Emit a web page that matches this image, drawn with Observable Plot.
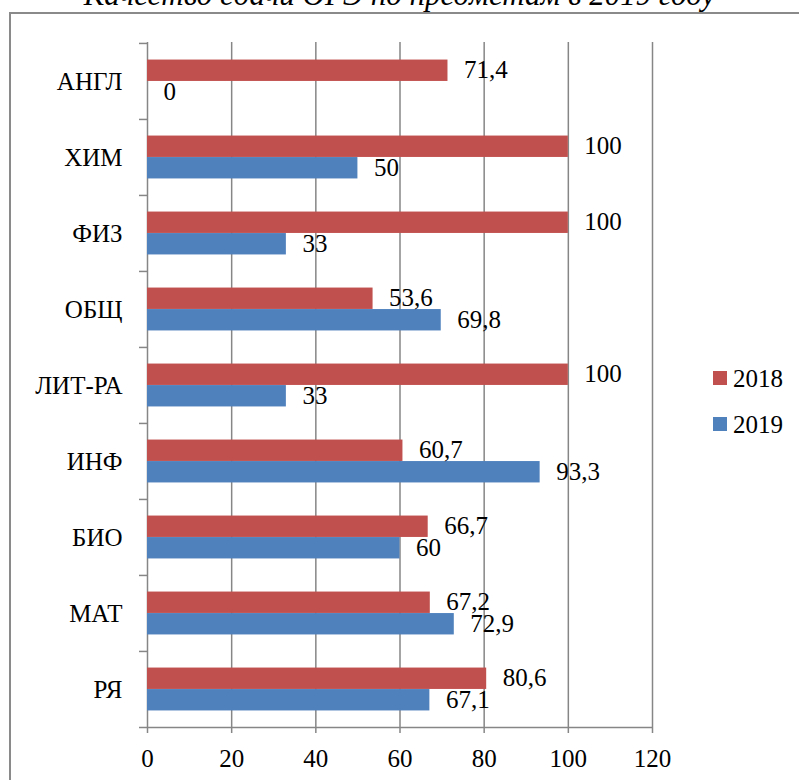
<!DOCTYPE html>
<html>
<head>
<meta charset="utf-8">
<script src="https://cdn.jsdelivr.net/npm/d3@7"></script>
<script src="https://cdn.jsdelivr.net/npm/@observablehq/plot@0.6"></script>
<style>
  html, body { margin: 0; padding: 0; background: #fff; }
  #wrap { position: relative; width: 799px; height: 780px; overflow: hidden; font-family: 'Liberation Serif'; }
  #title { position: absolute; left: 0; width: 799px; top: -21px; text-align: center; font-family: 'Liberation Serif'; font-style: italic; font-size: 31px; line-height: 1; white-space: nowrap; color: #000; }
  #frame { position: absolute; left: 9px; top: 12px; width: 900px; height: 900px; border: 2px solid #8a8a8a; box-sizing: border-box; }
  #chart { position: absolute; left: 0; top: 0; }
  .leg { position: absolute; left: 713px; font-family: 'Liberation Serif'; font-size: 25px; line-height: 1; color: #000; }
  .leg span.sw { position: absolute; left: 0; width: 14px; height: 14px; }
  .leg span.tx { position: absolute; left: 20px; white-space: nowrap; }
  #chart svg text { font-family: 'Liberation Serif' !important; }
</style>
</head>
<body>
<div id="wrap">
  <div id="title">Качество сдачи ОГЭ по предметам в 2019 году</div>
  <div id="frame"></div>
  <div id="chart"></div>
  <div id="legend"></div>
</div>
<script>
const categories = ["АНГЛ", "ХИМ", "ФИЗ", "ОБЩ", "ЛИТ-РА", "ИНФ", "БИО", "МАТ", "РЯ"];
const values2018 = [71.4, 100, 100, 53.6, 100, 60.7, 66.7, 67.2, 80.6];
const values2019 = [0, 50, 33, 69.8, 33, 93.3, 60, 72.9, 67.1];
const seriesNames = ["2018", "2019"];
const xTicks = [0, 20, 40, 60, 80, 100, 120];

const colors = {"2018": "#C0504D", "2019": "#4F81BD"};
const gridColor = "#868686";
const serif = "Liberation Serif";

const rows2018 = categories.map((c, i) => ({cat: c, value: values2018[i], series: "2018"}));
const rows2019 = categories.map((c, i) => ({cat: c, value: values2019[i], series: "2019"}));

const W = 799, H = 780, mT = 42, mB = 53, mL = 147, mR = 147;
const band = (H - mT - mB) / categories.length;
const barH = 21.5;
const pad = (band - 2 * barH) / 2;
const fmt = d => String(d).replace(".", ",");

const chart = Plot.plot({
  width: W, height: H,
  marginLeft: mL, marginRight: mR, marginTop: mT, marginBottom: mB,
  style: {fontFamily: serif, fontSize: "25px", color: "#000", background: "transparent", overflow: "visible"},
  x: {domain: [0, 120], ticks: xTicks},
  y: {domain: categories, padding: 0, label: null},
  marks: [
    Plot.ruleX(xTicks, {stroke: gridColor, strokeWidth: 1.5}),
    Plot.barX(rows2018, {x: "value", y: "cat", fill: colors["2018"], insetTop: pad, insetBottom: band - pad - barH}),
    Plot.barX(rows2019, {x: "value", y: "cat", fill: colors["2019"], insetTop: pad + barH, insetBottom: pad}),
    Plot.ruleY(categories, {y: d => d, x1: 0, x2: 0, insetLeft: -8, dy: -band / 2, stroke: gridColor, strokeWidth: 1.5}),
    Plot.ruleY(categories.slice(-1), {y: d => d, x1: 0, x2: 120, insetLeft: -8, dy: band / 2, stroke: gridColor, strokeWidth: 1.5}),
    Plot.axisX({ticks: xTicks, tickSize: 6, tickPadding: 16, stroke: gridColor, strokeWidth: 1.5, label: null, tickFormat: d => String(d), fontFamily: serif}),
    Plot.axisY({tickSize: 0, tickPadding: 25, label: null, fontFamily: serif}),
    Plot.text(rows2018, {x: "value", y: "cat", text: d => fmt(d.value), dx: 16, dy: pad + barH / 2 - band / 2 - 1, textAnchor: "start", fill: "#000", fontFamily: serif}),
    Plot.text(rows2019, {x: "value", y: "cat", text: d => fmt(d.value), dx: 16, dy: pad + barH * 1.5 - band / 2, textAnchor: "start", fill: "#000", fontFamily: serif})
  ]
});
document.getElementById("chart").appendChild(chart);

const legend = document.getElementById("legend");
seriesNames.forEach((s, i) => {
  const el = document.createElement("div");
  el.className = "leg";
  el.style.top = (371 + i * 46) + "px";
  el.innerHTML = `<span class="sw" style="background:${colors[s]}"></span><span class="tx" style="top:-5px">${s}</span>`;
  legend.appendChild(el);
});
</script>
</body>
</html>
